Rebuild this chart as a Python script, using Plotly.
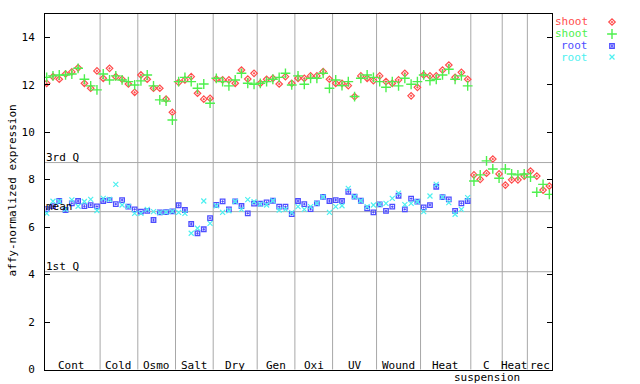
import plotly.graph_objects as go

groups = ["Cont", "Cold", "Osmo", "Salt", "Dry", "Gen", "Oxi", "UV", "Wound", "Heat", "C", "Heat", "rec"]
group_sizes = [9, 6, 6, 6, 7, 6, 6, 7, 7, 8, 5, 4, 4]

shoot1 = [12.06, 12.34, 12.23, 12.45, 12.54, 12.71, 12.06, 11.85, 12.58,
          12.27, 12.69, 12.34, 12.23, 12.03, 11.68,
          12.41, 12.23, 11.85, 11.85, 11.39, 10.84,
          12.10, 12.20, 12.34, 11.64, 11.39, 11.43,
          12.24, 12.20, 12.20, 12.06, 12.62, 12.24, 12.48,
          12.06, 12.23, 12.27, 12.03, 12.34, 12.06,
          12.27, 12.27, 12.37, 12.37, 12.55, 12.23,
          12.06, 12.06, 11.96, 11.50, 12.37, 12.27, 12.17,
          12.37, 12.13, 12.06, 12.20, 12.48, 11.53, 11.89,
          12.41, 12.37, 12.37, 12.62, 12.83, 12.31, 12.52, 12.23,
          8.20, 8.01, 8.27, 8.87, 8.24,
          7.77, 7.99, 7.99, 8.15,
          8.36, 8.15, 7.56, 7.73]
shoot2 = [12.31, 12.37, 12.41, 12.41, 12.45, 12.69, 12.23, 11.95, 11.78,
          12.45, 12.20, 12.37, 12.20, 12.13, 11.99,
          12.16, 12.41, 11.95, 11.36, 11.31, 10.51,
          12.13, 12.31, 12.13, 11.85, 12.03, 11.22,
          12.27, 12.13, 11.95, 12.20, 12.48, 12.06, 12.02,
          12.06, 12.13, 12.23, 12.31, 12.48, 11.99,
          12.37, 12.02, 12.27, 12.27, 12.48, 11.85,
          12.20, 11.96, 12.13, 11.50, 12.27, 12.41, 12.31,
          12.13, 11.89, 12.13, 11.95, 12.27, 12.02, 12.13,
          12.41, 12.17, 12.23, 12.41, 12.65, 12.23, 12.37, 11.95,
          7.94, 8.20, 8.79, 8.45, 8.06,
          8.45, 8.24, 8.20, 8.24,
          8.11, 7.47, 7.80, 7.38]
root1 = [6.76, 6.88, 7.10, 6.72, 7.00, 7.10, 6.88, 6.93, 6.87,
         7.10, 7.14, 6.97, 7.14, 6.86, 6.75,
         6.65, 6.68, 6.30, 6.62, 6.63, 6.66,
         6.92, 6.72, 6.13, 5.74, 5.91, 6.38,
         6.94, 7.08, 6.75, 7.08, 6.89, 6.58, 6.99,
         6.99, 7.04, 7.11, 6.86, 6.86, 6.55,
         7.10, 6.97, 6.76, 7.00, 7.27, 7.10,
         7.14, 7.10, 7.49, 7.28, 7.11, 6.79, 6.62,
         6.96, 6.68, 6.86, 7.32, 6.75, 7.20, 7.07,
         6.83, 6.93, 7.70, 7.26, 7.17, 6.68, 7.00, 7.10,
         None, None, None, None, None, None, None, None, None, None, None, None, None]
root2 = [6.58, 7.09, 7.08, 6.75, 7.15, 6.88, 7.08, 7.17, 6.70,
         7.21, 7.17, 7.80, 6.93, 6.86, 6.58,
         6.58, 6.75, 6.65, 6.61, 6.63, 6.66,
         6.62, 6.58, 5.74, 5.95, 7.10, 6.16,
         6.90, 6.62, 6.69, 7.08, 6.75, 7.16, 7.07,
         6.97, 6.93, 7.11, 6.72, 6.75, 6.61,
         6.86, 6.75, 6.86, 7.00, 7.27, 6.62,
         6.86, 6.90, 7.63, 7.28, 7.11, 6.86, 6.93,
         6.96, 7.00, 7.21, 7.43, 6.95, 7.00, 7.07,
         6.65, 7.31, 7.80, 7.26, 7.03, 6.54, 6.75, 7.24,
         None, None, None, None, None, None, None, None, None, None, None, None, None]

stat_values = [8.72, 6.65, 4.12]
stat_labels = ["3rd Q", "mean", "1st Q"]
ytick_vals = [0, 2, 4, 6, 8, 10, 12, 14]

RED, GREEN, BLUE, CYAN = "#ff4d4d", "#4df04d", "#4d4dff", "#4df0f0"
FONT = "DejaVu Sans Mono"
GRAY = "#a8a8a8"

n = sum(group_sizes)
xs = list(range(1, n + 1))

fig = go.Figure()
series = [
    (shoot1, RED, dict(symbol="diamond-open-dot", size=5, line=dict(width=1.2, color=RED))),
    (shoot2, GREEN, dict(symbol="cross-thin", size=7, line=dict(width=1.4, color=GREEN))),
    (root1, BLUE, dict(symbol="square-open-dot", size=4.5, line=dict(width=1.3, color=BLUE))),
    (root2, CYAN, dict(symbol="x-thin", size=5, line=dict(width=1.2, color=CYAN))),
]
for vals, col, mk in series:
    fig.add_trace(go.Scatter(x=xs, y=vals, mode="markers", marker=dict(color=col, **mk),
                             showlegend=False, hoverinfo="skip"))

shapes = []
annotations = []
# horizontal stat lines
for v, lab in zip(stat_values, stat_labels):
    shapes.append(dict(type="line", xref="x domain", yref="y", x0=0, x1=1, y0=v, y1=v,
                       line=dict(color=GRAY, width=1), layer="below"))
    annotations.append(dict(xref="paper", yref="y", x=45 / 640, y=v, text=lab, showarrow=False,
                            xanchor="left", yanchor="bottom", xshift=-1, yshift=-3,
                            font=dict(family=FONT, size=11, color="black")))
# vertical separators and group labels
start = 1
for i, (g, s) in enumerate(zip(groups, group_sizes)):
    end = start + s - 1
    if i < len(groups) - 1:
        shapes.append(dict(type="line", xref="x", yref="y domain", x0=end + 0.5, x1=end + 0.5,
                           y0=0, y1=1, line=dict(color=GRAY, width=1), layer="below"))
    center = (start + end) / 2
    annotations.append(dict(xref="x", yref="y", x=center, y=0, text=g, showarrow=False,
                            yanchor="bottom", yshift=-4,
                            font=dict(family=FONT, size=11, color="black")))
    if g == "C":
        annotations.append(dict(xref="x", yref="y", x=center, y=0, text="suspension",
                                showarrow=False, yanchor="top", yshift=1,
                                font=dict(family=FONT, size=11, color="black")))
    start = end + 1

# y title
annotations.append(dict(xref="paper", yref="paper", x=8 / 640, y=(384 - 191) / 384,
                        text="affy-normalized expression", textangle=-90, showarrow=False,
                        xshift=-5,
                        font=dict(family=FONT, size=11, color="black")))

# legend (text left, marker right)
leg = [("shoot", RED, 22), ("shoot", GREEN, 34), ("root", BLUE, 46), ("root", CYAN, 57)]
for (name, col, py), (_, _, mk) in zip(leg, series):
    annotations.append(dict(xref="paper", yref="paper", x=590 / 640, y=(384 - py) / 384,
                            text=name, showarrow=False, xanchor="right", yanchor="middle",
                            font=dict(family=FONT, size=11, color=col)))
    fig.add_trace(go.Scatter(x=[612], y=[py], xaxis="x2", yaxis="y2", mode="markers",
                             marker=dict(color=col, **mk), showlegend=False, hoverinfo="skip"))

fig.update_layout(
    width=640, height=384, autosize=False,
    margin=dict(l=0, r=0, t=0, b=0, autoexpand=False),
    paper_bgcolor="white", plot_bgcolor="rgba(0,0,0,0)",
    shapes=shapes, annotations=annotations,
    xaxis=dict(domain=[45 / 640, 552.3 / 640], range=[0.73, 81.47], showgrid=False,
               zeroline=False, showticklabels=False, ticks="", showline=True,
               linecolor="black", linewidth=1, mirror=True, automargin=False),
    yaxis=dict(domain=[(384 - 369.5) / 384, (384 - 13.5) / 384], range=[0, 15],
               tickvals=ytick_vals, ticks="inside", ticklen=5, tickcolor="black",
               ticklabelstandoff=7, automargin=False,
               showgrid=False, zeroline=False, showline=True, linecolor="black",
               linewidth=1, mirror="ticks",
               tickfont=dict(family=FONT, size=11, color="black")),
    xaxis2=dict(domain=[0, 1], range=[0, 640], visible=False, anchor="y2", automargin=False),
    yaxis2=dict(domain=[0, 1], range=[384, 0], visible=False, anchor="x2", automargin=False),
)
fig.write_html("out.html", config={"responsive": False, "displayModeBar": False},
               post_script="document.body.style.margin='0';document.body.style.overflow='hidden';")
